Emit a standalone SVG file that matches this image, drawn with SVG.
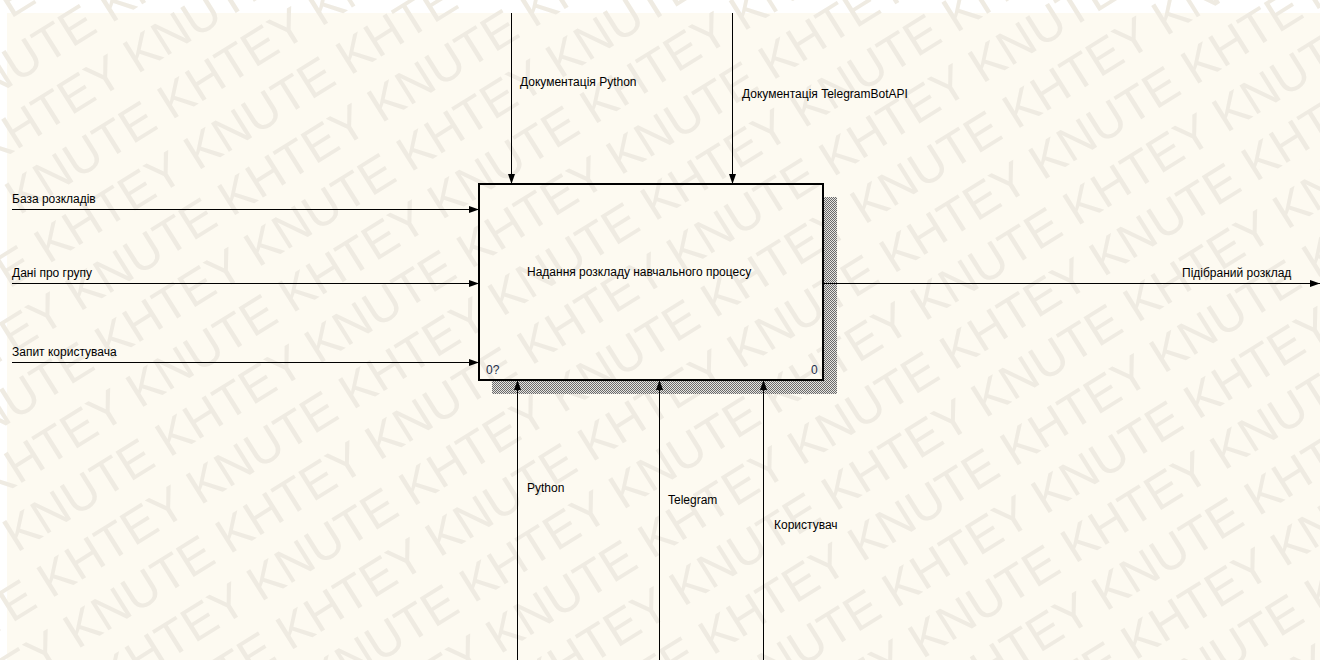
<svg xmlns="http://www.w3.org/2000/svg" xmlns:xlink="http://www.w3.org/1999/xlink" width="1320" height="660" viewBox="0 0 1320 660">
  <style>
    .lbl { font-family: "Liberation Sans", Arial, sans-serif; font-size: 12px; fill: #000; }
    .num { font-family: "Liberation Sans", Arial, sans-serif; font-size: 12px; fill: #1c2e4a; }
    .wm { font-family: "Liberation Sans", Arial, sans-serif; font-size: 49px; fill: #efebe2; }
    .arr { stroke: #000; stroke-width: 1; fill: none; marker-end: url(#ah); }
  </style>
  <defs>
    <marker id="ah" markerUnits="userSpaceOnUse" markerWidth="10" markerHeight="8" refX="10" refY="4" orient="auto">
      <path d="M0,0.5 L10,4 L0,7.5 Z" fill="#000"/>
    </marker>
    <pattern id="hatch" width="2" height="2" patternUnits="userSpaceOnUse">
      <rect width="2" height="2" fill="#e6e4e0"/>
      <rect width="1" height="1" fill="#6a6a6a"/>
      <rect x="1" y="1" width="1" height="1" fill="#6a6a6a"/>
    </pattern>
    <text id="wmA" class="wm" x="-580">KHTEY KNUTE KHTEY KNUTE KHTEY KNUTE KHTEY KNUTE KHTEY KNUTE KHTEY KNUTE</text>
  </defs>

  <g id="background">
    <rect width="1320" height="660" fill="#ffffff"/>
    <rect x="7" y="13" width="1313" height="647" fill="#fdfaf1"/>
  </g>

  <g id="watermark" transform="rotate(-32)">
    <use xlink:href="#wmA" transform="translate(-50,-35)"/>
    <use xlink:href="#wmA" transform="translate(125,22)"/>
    <use xlink:href="#wmA" transform="translate(-50,79)"/>
    <use xlink:href="#wmA" transform="translate(125,136)"/>
    <use xlink:href="#wmA" transform="translate(-50,193)"/>
    <use xlink:href="#wmA" transform="translate(125,250)"/>
    <use xlink:href="#wmA" transform="translate(-50,307)"/>
    <use xlink:href="#wmA" transform="translate(125,364)"/>
    <use xlink:href="#wmA" transform="translate(-50,421)"/>
    <use xlink:href="#wmA" transform="translate(125,478)"/>
    <use xlink:href="#wmA" transform="translate(-50,535)"/>
    <use xlink:href="#wmA" transform="translate(125,592)"/>
    <use xlink:href="#wmA" transform="translate(-50,649)"/>
    <use xlink:href="#wmA" transform="translate(125,706)"/>
    <use xlink:href="#wmA" transform="translate(-50,763)"/>
    <use xlink:href="#wmA" transform="translate(125,820)"/>
    <use xlink:href="#wmA" transform="translate(-50,877)"/>
    <use xlink:href="#wmA" transform="translate(125,934)"/>
    <use xlink:href="#wmA" transform="translate(-50,991)"/>
    <use xlink:href="#wmA" transform="translate(125,1048)"/>
    <use xlink:href="#wmA" transform="translate(-50,1105)"/>
    <use xlink:href="#wmA" transform="translate(125,1162)"/>
    <use xlink:href="#wmA" transform="translate(-50,1219)"/>
    <use xlink:href="#wmA" transform="translate(125,1276)"/>
    <use xlink:href="#wmA" transform="translate(-50,1333)"/>
  </g>

  <g id="node-A0">
    <path d="M824,197 H837 V394 H492 V381 H824 Z" fill="url(#hatch)"/>
    <rect x="479" y="184" width="344" height="196" fill="none" stroke="#000" stroke-width="2"/>
    <text class="lbl" x="527" y="276">Надання розкладу навчального процесу</text>
    <text class="num" x="486" y="374">0?</text>
    <text class="num" x="811" y="374">0</text>
  </g>

  <g id="connectors">
    <g id="ctrl-python-docs">
      <line class="arr" x1="511.5" y1="13" x2="511.5" y2="184"/>
      <text class="lbl" x="520" y="86">Документація Python</text>
    </g>
    <g id="ctrl-telegram-docs">
      <line class="arr" x1="732.5" y1="13" x2="732.5" y2="184"/>
      <text class="lbl" x="742" y="98">Документація TelegramBotAPI</text>
    </g>
    <g id="in-schedule-db">
      <line class="arr" x1="12" y1="209.5" x2="479" y2="209.5"/>
      <text class="lbl" x="12" y="203">База розкладів</text>
    </g>
    <g id="in-group-data">
      <line class="arr" x1="12" y1="283.5" x2="479" y2="283.5"/>
      <text class="lbl" x="12" y="277">Дані про групу</text>
    </g>
    <g id="in-user-request">
      <line class="arr" x1="12" y1="362.5" x2="479" y2="362.5"/>
      <text class="lbl" x="12" y="356">Запит користувача</text>
    </g>
    <g id="out-schedule">
      <line class="arr" x1="823" y1="283.5" x2="1320" y2="283.5"/>
      <text class="lbl" x="1182" y="277">Підібраний розклад</text>
    </g>
    <g id="mech-python">
      <line class="arr" x1="517.5" y1="660" x2="517.5" y2="380"/>
      <text class="lbl" x="527" y="492">Python</text>
    </g>
    <g id="mech-telegram">
      <line class="arr" x1="659.5" y1="660" x2="659.5" y2="380"/>
      <text class="lbl" x="668" y="504">Telegram</text>
    </g>
    <g id="mech-user">
      <line class="arr" x1="763.5" y1="660" x2="763.5" y2="380"/>
      <text class="lbl" x="774" y="529">Користувач</text>
    </g>
  </g>
</svg>
